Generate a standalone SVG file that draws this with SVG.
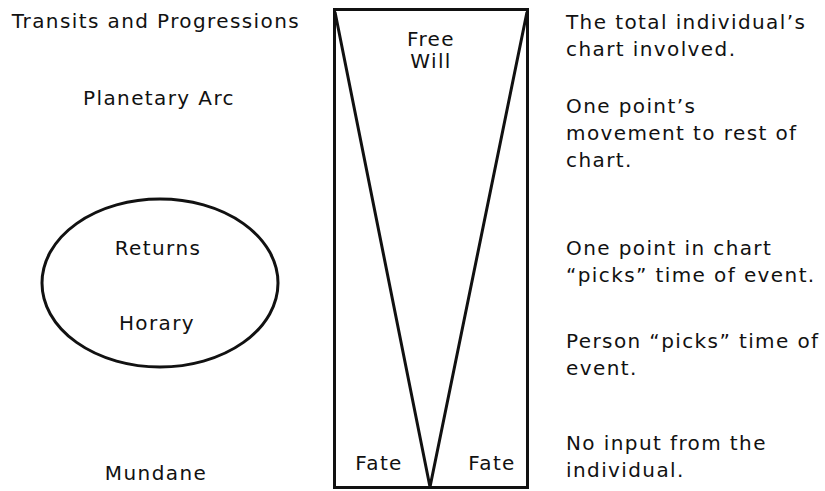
<svg xmlns="http://www.w3.org/2000/svg" width="825" height="491" viewBox="0 0 825 491">
<style>
text{font-family:"DejaVu Sans","Open Sans",sans-serif;font-size:20px;letter-spacing:1.4px;fill:#111}
.c{text-anchor:middle}
.s{fill:none;stroke:#111;stroke-width:3}
</style>
<rect x="0" y="0" width="825" height="491" fill="#fff"/>
<g id="left-labels">
<text class="c" x="156" y="28">Transits and Progressions</text>
<text class="c" x="159" y="105">Planetary Arc</text>
<text class="c" x="156" y="480">Mundane</text>
</g>
<g id="ellipse-node">
<ellipse class="s" cx="160" cy="283" rx="118" ry="84"/>
<text class="c" x="158" y="255">Returns</text>
<text class="c" x="157" y="330">Horary</text>
</g>
<g id="funnel">
<rect class="s" x="334.5" y="9.5" width="193" height="478"/>
<text class="c" x="431" y="46">Free</text>
<text class="c" x="431" y="68">Will</text>
<text class="c" x="379" y="470">Fate</text>
<text class="c" x="492" y="470">Fate</text>
</g>
<g id="connectors">
<polyline class="s" points="335,12 430,487 527,12"/>
</g>
<g id="right-labels">
<text x="566" y="29">The total individual’s</text>
<text x="566" y="56">chart involved.</text>
<text x="566" y="113">One point’s</text>
<text x="566" y="140">movement to rest of</text>
<text x="566" y="167">chart.</text>
<text x="566" y="255">One point in chart</text>
<text x="566" y="282">“picks” time of event.</text>
<text x="566" y="348">Person “picks” time of</text>
<text x="566" y="375">event.</text>
<text x="566" y="450">No input from the</text>
<text x="566" y="477">individual.</text>
</g>
</svg>
